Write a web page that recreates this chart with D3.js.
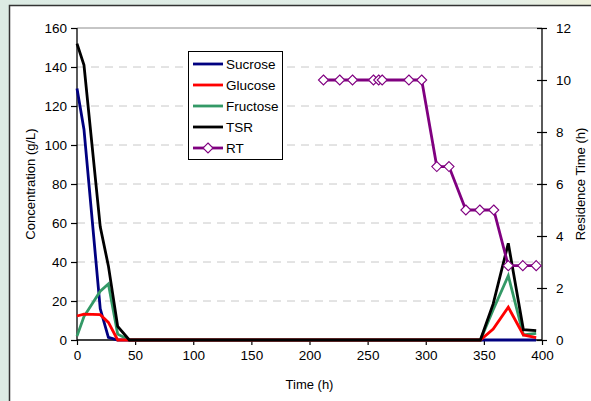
<!DOCTYPE html>
<html><head><meta charset="utf-8">
<script src="https://cdn.jsdelivr.net/npm/d3@7"></script>
<style>
html,body{margin:0;padding:0;}
body{width:591px;height:401px;overflow:hidden;background:#dfece6;}
text{font-family:"Liberation Sans",Arial,sans-serif;fill:#000;}
</style></head>
<body>
<svg id="c" width="591" height="401"></svg>
<script>
// ---- data ----
const concTimes = [0, 6, 20, 27, 35, 45, 347, 358, 371, 384, 395];
const sucrose   = [129, 108, 16, 1.4, 0, 0, 0, 0, 0, 0, 0];
const glucose   = [12.3, 13.3, 13, 9, 0, 0, 0, 5.6, 16.8, 2.6, 1.2];
const fructose  = [2, 12, 25, 28.7, 3, 0, 0, 15.5, 33, 2.6, 3.4];
const tsr       = [152, 141, 58, 38, 7, 0, 0, 18.5, 49.6, 5.3, 4.8];
const rtTimes   = [212, 226, 237, 255, 259.5, 262.5, 285.5, 296.5, 309.5, 320, 334.5, 346.5, 358.5, 371, 383.5, 395];
const rtValues  = [10, 10, 10, 10, 10, 10, 10, 10, 6.67, 6.67, 5, 5, 5, 2.86, 2.86, 2.86];
const xTicks = [0, 50, 100, 150, 200, 250, 300, 350, 400];
const yTicks = [0, 20, 40, 60, 80, 100, 120, 140, 160];
const y2Ticks = [0, 2, 4, 6, 8, 10, 12];
const seriesNames = ["Sucrose", "Glucose", "Fructose", "TSR", "RT"];
const seriesColors = ["#000080", "#ff0000", "#339966", "#000000", "#800080"];

const svg = d3.select("#c");
// background panel
const defs = svg.append("defs");
const lg = defs.append("linearGradient").attr("id","bg").attr("x1","0").attr("x2","1").attr("y1","0").attr("y2","0");
lg.append("stop").attr("offset","0").attr("stop-color","#dcebe4");
lg.append("stop").attr("offset","0.85").attr("stop-color","#e4efe8");
lg.append("stop").attr("offset","1").attr("stop-color","#eef0dc");
svg.append("rect").attr("width",591).attr("height",401).attr("fill","url(#bg)");
svg.append("rect").attr("x",9.5).attr("y",5.5).attr("width",600).attr("height",420)
  .attr("fill","#fff").attr("stroke","#333").attr("stroke-width",1.5);

const L = 77, R = 542, T = 28, B = 340;
const x = d3.scaleLinear().domain([0, 400]).range([L, R]);
const y = d3.scaleLinear().domain([0, 160]).range([B, T]);
const y2 = d3.scaleLinear().domain([0, 12]).range([B, T]);

// gridlines
svg.append("g").selectAll("line").data(yTicks.filter(v => v > 0 && v < 160)).join("line")
  .attr("x1", L).attr("x2", R).attr("y1", d => y(d)).attr("y2", d => y(d))
  .attr("stroke", "#c8c8c8").attr("stroke-width", 1).attr("stroke-dasharray", "8,6");
svg.append("line").attr("x1", L).attr("x2", R).attr("y1", y(160)).attr("y2", y(160))
  .attr("stroke", "#8c8c8c").attr("stroke-width", 1);

// axes
const fs = "13.5px";
const gx = svg.append("g").attr("transform", `translate(0,${B})`)
  .call(d3.axisBottom(x).tickValues(xTicks).tickSize(5).tickPadding(5).tickFormat(d3.format("d")));
const gy = svg.append("g").attr("transform", `translate(${L},0)`)
  .call(d3.axisLeft(y).tickValues(yTicks).tickSize(6).tickPadding(4).tickFormat(d3.format("d")));
const gy2 = svg.append("g").attr("transform", `translate(${R},0)`)
  .call(d3.axisRight(y2).tickValues(y2Ticks).tickSize(5).tickPadding(9).tickFormat(d3.format("d")));
gy2.selectAll(".tick line").attr("x1", -5);
[gx, gy, gy2].forEach(g => {
  g.select(".domain").attr("stroke", "#000").attr("stroke-width", 1.3);
  g.selectAll(".tick line").attr("stroke", "#000").attr("stroke-width", 1.2);
  g.selectAll("text").style("font-size", fs).style("font-family", '"Liberation Sans",Arial,sans-serif').attr("fill", "#000");
});
gy.select(".domain").attr("d", `M0,${T}V${B}`);
gx.select(".domain").attr("d", `M${L},0H${R}`);
gy2.select(".domain").attr("d", `M0,${T}V${B}`);

// axis titles
svg.append("text").attr("x", (L + R) / 2).attr("y", 389).attr("text-anchor", "middle")
  .style("font-size", "13px").text("Time (h)");
svg.append("text").attr("transform", `translate(35,${(T + B) / 2}) rotate(-90)`).attr("text-anchor", "middle")
  .style("font-size", "13px").text("Concentration (g/L)");
svg.append("text").attr("transform", `translate(585,${(T + B) / 2}) rotate(-90)`).attr("text-anchor", "middle")
  .style("font-size", "13px").text("Residence Time (h)");

// lines
const concSeries = [sucrose, glucose, fructose, tsr];
const line = d3.line().x(d => x(d[0])).y(d => y(d[1]));
const plot = svg.append("g");
const drawOrder = [0, 2, 1, 3];
drawOrder.forEach(i => {
  const pts = concTimes.map((t, j) => [t, concSeries[i][j]]);
  plot.append("path").attr("d", line(pts)).attr("fill", "none")
    .attr("stroke", seriesColors[i]).attr("stroke-width", 2.8).attr("stroke-linejoin", "miter");
});
const rtPts = rtTimes.map((t, j) => [t, rtValues[j]]);
plot.append("path").attr("d", d3.line().x(d => x(d[0])).y(d => y2(d[1]))(rtPts))
  .attr("fill", "none").attr("stroke", seriesColors[4]).attr("stroke-width", 2.8);
const diamond = "M0,-5L5,0L0,5L-5,0Z";
plot.selectAll(".mk").data(rtPts).join("path").attr("class", "mk")
  .attr("transform", d => `translate(${x(d[0])},${y2(d[1])})`)
  .attr("d", diamond).attr("fill", "#fff").attr("stroke", seriesColors[4]).attr("stroke-width", 1.1);

// legend
const lgG = svg.append("g");
lgG.append("rect").attr("x", 188.5).attr("y", 51.5).attr("width", 94).attr("height", 108)
  .attr("fill", "#fff").attr("stroke", "#000").attr("stroke-width", 1);
seriesNames.forEach((n, i) => {
  const yy = 64 + i * 21;
  lgG.append("line").attr("x1", 193).attr("x2", 223).attr("y1", yy).attr("y2", yy)
    .attr("stroke", seriesColors[i]).attr("stroke-width", 2.8);
  if (n === "RT") lgG.append("path").attr("transform", `translate(208,${yy})`).attr("d", diamond)
    .attr("fill", "#fff").attr("stroke", seriesColors[i]).attr("stroke-width", 1.1);
  lgG.append("text").attr("x", 226).attr("y", yy + 5).style("font-size", "13.5px").text(n);
});
</script>
</body></html>
